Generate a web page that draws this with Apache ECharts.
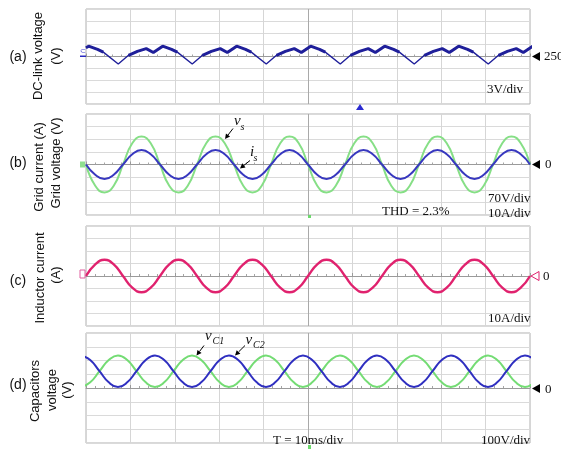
<!DOCTYPE html>
<html><head><meta charset="utf-8">
<script src="https://cdn.jsdelivr.net/npm/echarts@6/dist/echarts.min.js"></script>
<style>html,body{margin:0;padding:0;background:#fff}#c{width:561px;height:449px}</style>
</head><body><div id="c"></div>
<script>
// ---- (a) DC-link voltage (V), time in ms
const dcTime = [0, 0.60, 2.60, 3.90,
  7.27, 9.57, 11.57, 13.57, 15.17, 17.27, 19.27, 20.57,
  23.93, 26.23, 28.23, 30.23, 31.83, 33.93, 35.93, 37.23,
  40.60, 42.90, 44.90, 46.90, 48.50, 50.60, 52.60, 53.90,
  57.27, 59.57, 61.57, 63.57, 65.17, 67.27, 69.27, 70.57,
  73.93, 76.23, 78.23, 80.23, 81.83, 83.93, 85.93, 87.23,
  90.60, 92.90, 94.90, 96.90, 98.50, 100.60];
const dcVolt = [252.2, 252.6, 251.8, 251.1,
  248.1, 250.3, 251.3, 252.0, 251.0, 252.6, 251.8, 251.1,
  248.1, 250.3, 251.3, 252.0, 251.0, 252.6, 251.8, 251.1,
  248.1, 250.3, 251.3, 252.0, 251.0, 252.6, 251.8, 251.1,
  248.1, 250.3, 251.3, 252.0, 251.0, 252.6, 251.8, 251.1,
  248.1, 250.3, 251.3, 252.0, 251.0, 252.6, 251.8, 251.1,
  248.1, 250.3, 251.3, 252.0, 251.0, 252.6];
// 1 = switching noise visible on the segment starting at that sample
const dcNoisy = [1, 1, 1, 0,
  0, 1, 1, 1, 0, 1, 1, 0,
  0, 1, 1, 1, 0, 1, 1, 0,
  0, 1, 1, 1, 0, 1, 1, 0,
  0, 1, 1, 1, 0, 1, 1, 0,
  0, 1, 1, 1, 0, 1, 1, 0,
  0, 1, 1, 1, 0, 1];

// ---- (b)(c) sample times (ms)
const tGrid = [0, 2.08, 4.17, 6.25, 8.33, 10.42, 12.5, 14.58, 16.67, 18.75, 20.83, 22.92,
  25, 27.08, 29.17, 31.25, 33.33, 35.42, 37.5, 39.58, 41.67, 43.75, 45.83, 47.92,
  50, 52.08, 54.17, 56.25, 58.33, 60.42, 62.5, 64.58, 66.67, 68.75, 70.83, 72.92,
  75, 77.08, 79.17, 81.25, 83.33, 85.42, 87.5, 89.58, 91.67, 93.75, 95.83, 97.92, 100];
// grid voltage vs (V)
const gridVoltage = [0, -118, -155, -118, 0, 118, 155, 118,
  0, -118, -155, -118, 0, 118, 155, 118,
  0, -118, -155, -118, 0, 118, 155, 118,
  0, -118, -155, -118, 0, 118, 155, 118,
  0, -118, -155, -118, 0, 118, 155, 118,
  0, -118, -155, -118, 0, 118, 155, 118, 0];
// grid current is (A)
const gridCurrent = [0, -8.1, -11.5, -8.1, 0, 8.1, 11.5, 8.1,
  0, -8.1, -11.5, -8.1, 0, 8.1, 11.5, 8.1,
  0, -8.1, -11.5, -8.1, 0, 8.1, 11.5, 8.1,
  0, -8.1, -11.5, -8.1, 0, 8.1, 11.5, 8.1,
  0, -8.1, -11.5, -8.1, 0, 8.1, 11.5, 8.1,
  0, -8.1, -11.5, -8.1, 0, 8.1, 11.5, 8.1, 0];
// inductor current (A)
const inductorCurrent = [0, 9.3, 13, 9.3, 0, -9.3, -13, -9.3,
  0, 9.3, 13, 9.3, 0, -9.3, -13, -9.3,
  0, 9.3, 13, 9.3, 0, -9.3, -13, -9.3,
  0, 9.3, 13, 9.3, 0, -9.3, -13, -9.3,
  0, 9.3, 13, 9.3, 0, -9.3, -13, -9.3,
  0, 9.3, 13, 9.3, 0, -9.3, -13, -9.3, 0];

// ---- (d) capacitor voltages (V)
const tCap = [-1.13, 0.95, 3.04, 5.12, 7.2, 9.29, 11.37, 13.45, 15.54, 17.62, 19.7, 21.79,
  23.87, 25.95, 28.04, 30.12, 32.2, 34.29, 36.37, 38.45, 40.54, 42.62, 44.7, 46.79,
  48.87, 50.95, 53.04, 55.12, 57.2, 59.29, 61.37, 63.45, 65.54, 67.62, 69.7, 71.79,
  73.87, 75.95, 78.04, 80.12, 82.2, 84.29, 86.37, 88.45, 90.54, 92.62, 94.7, 96.79,
  98.87, 100.95];
const vC1 = [7, 41, 122, 203, 237, 203, 122, 41,
  7, 41, 122, 203, 237, 203, 122, 41,
  7, 41, 122, 203, 237, 203, 122, 41,
  7, 41, 122, 203, 237, 203, 122, 41,
  7, 41, 122, 203, 237, 203, 122, 41,
  7, 41, 122, 203, 237, 203, 122, 41, 7, 41];
const vC2 = [237, 203, 122, 41, 7, 41, 122, 203,
  237, 203, 122, 41, 7, 41, 122, 203,
  237, 203, 122, 41, 7, 41, 122, 203,
  237, 203, 122, 41, 7, 41, 122, 203,
  237, 203, 122, 41, 7, 41, 122, 203,
  237, 203, 122, 41, 7, 41, 122, 203, 237, 203];

const zip = (a, b) => a.map((x, i) => [x, b[i]]);
const dcBand = dcTime.map((t, i) => (dcNoisy[i] || (i > 0 && dcNoisy[i - 1])) ? [t, dcVolt[i]] : '-');

const gridsPx = [
  {top: 9, height: 95},
  {top: 114, height: 101},
  {top: 226, height: 100},
  {top: 333, height: 110}
];
const vCol = ['#d6d6d6','#d6d6d6','#d6d6d6','#d6d6d6','#d6d6d6','#a9a9a9','#d6d6d6','#d6d6d6','#d6d6d6','#d6d6d6','#d6d6d6'];

const grids = gridsPx.map(g => ({left: 86, width: 444, top: g.top, height: g.height,
  show: true, borderColor: '#b0b0b0', borderWidth: 1, backgroundColor: '#fff'}));
const xAxes = gridsPx.map((g, i) => ({
  type: 'value', gridIndex: i, min: 0, max: 100, interval: 10,
  axisLabel: {show: false},
  axisLine: {show: true, onZero: true, lineStyle: {color: '#9a9a9a', width: 1}},
  axisTick: {show: true, inside: true, length: 3, lineStyle: {color: '#9a9a9a'}},
  minorTick: {show: true, splitNumber: 5, length: 2, lineStyle: {color: '#a5a5a5'}},
  splitLine: {show: true, lineStyle: {color: vCol, width: 1}},
  minorSplitLine: {show: false}
}));
const ySplit = {show: true, lineStyle: {color: '#dadada', width: 1}};
const yBase = {type: 'value', axisLabel: {show: false}, axisLine: {show: false}, axisTick: {show: false}};
const yAxes = [
  Object.assign({}, yBase, {gridIndex: 0, min: 238, max: 262, interval: 3, splitLine: ySplit}),
  Object.assign({}, yBase, {gridIndex: 0, min: -4, max: 4, interval: 1, splitLine: {show: false}, show: false}),
  Object.assign({}, yBase, {gridIndex: 1, min: -280, max: 280, interval: 70, splitLine: ySplit}),
  Object.assign({}, yBase, {gridIndex: 1, min: -40, max: 40, interval: 10, splitLine: {show: false}}),
  Object.assign({}, yBase, {gridIndex: 2, min: -40, max: 40, interval: 10, splitLine: ySplit}),
  Object.assign({}, yBase, {gridIndex: 3, min: -400, max: 400, interval: 100, splitLine: ySplit})
];

const ln = (name, xi, yi, data, color, w, smooth) => ({
  name, type: 'line', xAxisIndex: xi, yAxisIndex: yi, data, symbol: 'none',
  smooth: smooth, connectNulls: false, clip: true,
  lineStyle: {color, width: w}, itemStyle: {color}, silent: true
});

const series = [
  ln('DC-link', 0, 0, zip(dcTime, dcVolt), '#1f1f9a', 1.4, false),
  ln('DC-link noise', 0, 0, dcBand, '#1f1f9a', 3, false),
  ln('vs', 1, 2, zip(tGrid, gridVoltage), '#86df86', 2, true),
  ln('is', 1, 3, zip(tGrid, gridCurrent), '#3838bf', 2, true),
  ln('iL', 2, 4, zip(tGrid, inductorCurrent), '#e0226e', 2.4, true),
  ln('vC1', 3, 5, zip(tCap, vC1), '#74dc74', 2, true),
  ln('vC2', 3, 5, zip(tCap, vC2), '#2f2fc0', 2, true)
];

// ---- decorations
const SANS = '"Liberation Sans", Arial, sans-serif';
const SERIF = '"Liberation Serif", "Times New Roman", serif';
function txt(text, x, y, opt) {
  opt = opt || {};
  return {type: 'text', x, y, rotation: opt.rot || 0, z: 100,
    style: {text, fill: opt.color || '#111', font: (opt.italic ? 'italic ' : '') + (opt.size || 13) + 'px ' + (opt.family || SERIF),
      textAlign: opt.align || 'left', textVerticalAlign: 'middle', align: opt.align || 'left', verticalAlign: 'middle'}};
}
function vlab(text, x, y) { return txt(text, x, y, {rot: Math.PI / 2, align: 'center', family: SANS, size: 13}); }
function tri(x, y, fill, stroke) {
  return {type: 'polygon', z: 100, shape: {points: [[x + 8, y - 4.5], [x + 8, y + 4.5], [x, y]]},
    style: {fill: fill, stroke: stroke || null, lineWidth: 1}};
}
function arrow(x1, y1, x2, y2) {
  const a = Math.atan2(y2 - y1, x2 - x1), L = 5, W = 2.6;
  const bx = x2 - L * Math.cos(a), by = y2 - L * Math.sin(a);
  return [
    {type: 'line', z: 100, shape: {x1, y1, x2: bx, y2: by}, style: {stroke: '#000', lineWidth: 1}},
    {type: 'polygon', z: 100, shape: {points: [[x2, y2], [bx + W * Math.sin(a), by - W * Math.cos(a)], [bx - W * Math.sin(a), by + W * Math.cos(a)]]}, style: {fill: '#000'}}
  ];
}

const graphic = [
  // left labels
  txt('(a)', 18, 57, {family: SANS, align: 'center', size: 14}),
  vlab('DC-link voltage', 38, 56), vlab('(V)', 56, 56),
  txt('(b)', 18, 163, {family: SANS, align: 'center', size: 14}),
  vlab('Grid current (A)', 39, 167), vlab('Grid voltage (V)', 56, 163),
  txt('(c)', 18, 281, {family: SANS, align: 'center', size: 14}),
  vlab('Inductor current', 40, 278), vlab('(A)', 56, 275),
  txt('(d)', 18, 385, {family: SANS, align: 'center', size: 14}),
  vlab('Capacitors', 35, 391), vlab('voltage', 52.5, 390), vlab('(V)', 67, 390),
  // right markers
  tri(532, 56.5, '#000'), txt('250', 544, 57),
  tri(532, 164.5, '#000'), txt('0', 545, 165),
  tri(531, 276, '#fff', '#e0226e'), txt('0', 543, 277),
  tri(532, 388.5, '#000'), txt('0', 545, 390),
  // scale texts
  txt('3V/div', 487, 90),
  txt('70V/div', 488, 199), txt('10A/div', 488, 214),
  txt('THD = 2.3%', 382, 212),
  txt('10A/div', 488, 319),
  txt('T = 10ms/div', 273, 441), txt('100V/div', 481, 441),
  // annotations
  txt('v', 234, 121, {italic: true, size: 15}), txt('s', 240.5, 127, {italic: true, size: 10}),
  txt('i', 250, 152.5, {italic: true, size: 15}), txt('s', 253.5, 158, {italic: true, size: 10}),
  txt('v', 205, 336.5, {italic: true, size: 15}), txt('C1', 212.5, 341.5, {italic: true, size: 10}),
  txt('v', 245.5, 340, {italic: true, size: 15}), txt('C2', 253, 345, {italic: true, size: 10}),
  ...arrow(233, 128.5, 225, 139),
  ...arrow(250, 160.5, 240, 168.5),
  ...arrow(204, 345.5, 196.5, 355.5),
  ...arrow(245, 345.5, 235, 355.5),
  // channel / trigger markers
  {type: 'rect', z: 100, shape: {x: 80, y: 55.5, width: 6, height: 1.5}, style: {fill: '#2a2ac0'}},
  txt('⊂', 80, 51, {color: '#3a3ad0', size: 7, family: SANS}),
  {type: 'rect', z: 100, shape: {x: 80, y: 161.5, width: 5, height: 6}, style: {fill: '#8fe08f'}},
  {type: 'rect', z: 100, shape: {x: 80, y: 270, width: 5, height: 8}, style: {fill: 'none', stroke: '#e060a0', lineWidth: 1}},
  {type: 'polygon', z: 100, shape: {points: [[356, 110], [364, 110], [360, 104]]}, style: {fill: '#2a2ad0'}},
  {type: 'rect', z: 100, shape: {x: 308, y: 215, width: 3, height: 3}, style: {fill: '#6cd96c'}},
  {type: 'rect', z: 100, shape: {x: 308, y: 445, width: 3, height: 4}, style: {fill: '#6cd96c'}}
];

const chart = echarts.init(document.getElementById('c'), null, {renderer: 'canvas'});
chart.setOption({animation: false, backgroundColor: '#fff', grid: grids, xAxis: xAxes, yAxis: yAxes, series, graphic});
</script>
</body></html>
